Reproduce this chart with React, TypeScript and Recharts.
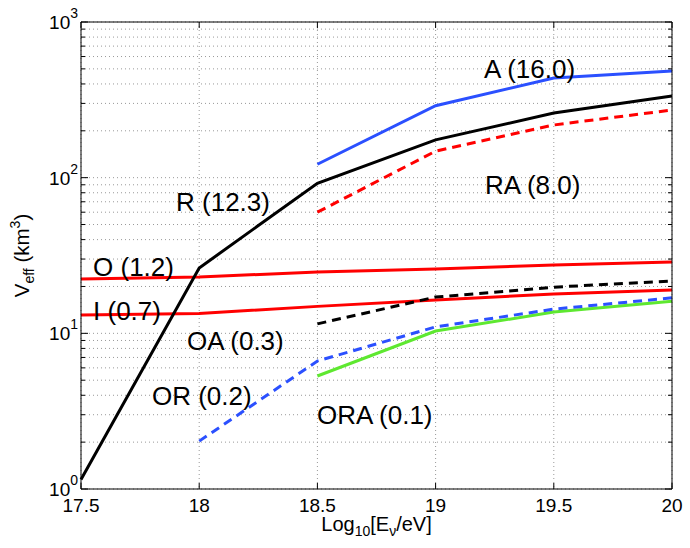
import React from 'react';
import { LineChart, Line, XAxis, YAxis, CartesianGrid, ReferenceDot, Label } from 'recharts';

const xValues = [17.5, 18, 18.5, 19, 19.5, 20];
const seriesR = [1.15, 26.3, 92, 175, 260, 335];
const seriesA = [null, null, 122, 290, 437, 484];
const seriesRA = [null, null, 60, 148, 218, 272];
const seriesO = [22.3, 23, 24.8, 25.9, 27.5, 28.7];
const seriesI = [13.1, 13.4, 14.9, 16.4, 17.9, 19.0];
const seriesOA = [null, null, 11.5, 17.1, 19.8, 21.7];
const seriesOR = [null, 2.03, 6.64, 11.0, 14.3, 16.9];
const seriesORA = [null, null, 5.32, 10.35, 13.7, 16.1];

const xTicks = [17.5, 18, 18.5, 19, 19.5, 20];
const yTicks = [
  1, 2, 3, 4, 5, 6, 7, 8, 9,
  10, 20, 30, 40, 50, 60, 70, 80, 90,
  100, 200, 300, 400, 500, 600, 700, 800, 900,
  1000,
];
const yDecades = [1, 10, 100, 1000];

const annLabels = ['A (16.0)', 'RA (8.0)', 'R (12.3)', 'O (1.2)', 'I (0.7)', 'OA (0.3)', 'OR (0.2)', 'ORA (0.1)'];
const annX = [19.205, 19.209, 17.902, 17.551, 17.551, 17.948, 17.8, 18.498];
const annY = [437, 78.5, 61.1, 23.4, 12.2, 7.82, 3.46, 2.62];

const data = xValues.map((x, i) => ({
  x,
  R: seriesR[i],
  A: seriesA[i],
  RA: seriesRA[i],
  O: seriesO[i],
  I: seriesI[i],
  OA: seriesOA[i],
  OR: seriesOR[i],
  ORA: seriesORA[i],
}));

const FONT = '"Liberation Sans", Arial, Helvetica, sans-serif';

const LeftTick = (props: any) => {
  const { y, payload } = props;
  const v = payload.value;
  const isMajor = yDecades.includes(v);
  const len = isMajor ? 7 : 4;
  const ax = 81;
  return (
    <g>
      <line x1={ax} x2={ax + len} y1={y} y2={y} stroke="#000" strokeWidth={1} />
      {isMajor && (
        <text x={ax - 3} y={y + 7} textAnchor="end" fontFamily={FONT} fontSize={19} fill="#000">
          <tspan>10</tspan>
          <tspan dy={-11} fontSize={14}>{String(Math.round(Math.log10(v)))}</tspan>
        </text>
      )}
    </g>
  );
};

const RightTick = (props: any) => {
  const { y, payload } = props;
  const v = payload.value;
  const isMajor = yDecades.includes(v);
  const len = isMajor ? 7 : 4;
  const ax = 672;
  return <line x1={ax} x2={ax - len} y1={y} y2={y} stroke="#000" strokeWidth={1} />;
};

const BottomTick = (props: any) => {
  const { x, payload } = props;
  const ay = 489;
  return (
    <g>
      <line x1={x} x2={x} y1={ay} y2={ay - 6} stroke="#000" strokeWidth={1} />
      <text x={x} y={ay + 23} textAnchor="middle" fontFamily={FONT} fontSize={19} fill="#000">
        {String(payload.value)}
      </text>
    </g>
  );
};

const TopTick = (props: any) => {
  const { x } = props;
  const ay = 22;
  return <line x1={x} x2={x} y1={ay} y2={ay + 6} stroke="#000" strokeWidth={1} />;
};

const XLabel = (props: any) => {
  const vb = props.viewBox || { x: 81, y: 489, width: 591 };
  const cx = vb.x + vb.width / 2;
  return (
    <text x={cx} y={531} textAnchor="middle" fontFamily={FONT} fontSize={20} fill="#000">
      <tspan>Log</tspan>
      <tspan fontSize={14} dy={5}>10</tspan>
      <tspan dy={-5}>[E</tspan>
      <tspan fontSize={14} dy={5}>ν</tspan>
      <tspan dy={-5}>/eV]</tspan>
    </text>
  );
};

const YLabel = (props: any) => {
  const vb = props.viewBox || { x: 80, y: 22, height: 467 };
  const cy = vb.y + vb.height / 2;
  const cx = 29;
  return (
    <text
      x={cx}
      y={cy}
      textAnchor="middle"
      fontFamily={FONT}
      fontSize={20.5}
      fill="#000"
      transform={`rotate(-90 ${cx} ${cy})`}
    >
      <tspan>V</tspan>
      <tspan fontSize={14} dy={5}>eff</tspan>
      <tspan dy={-5}> (km</tspan>
      <tspan fontSize={14} dy={-9}>3</tspan>
      <tspan dy={9}>)</tspan>
    </text>
  );
};

const makeAnn = (label: string) => (props: any) => (
  <text x={props.cx} y={props.cy} fontFamily={FONT} fontSize={26} fill="#000">
    {label}
  </text>
);

export default function App() {
  return (
    <div style={{ position: 'absolute', left: 0, top: 0, background: '#fff' }}>
      <LineChart
        width={690}
        height={548}
        data={data}
        margin={{ top: 21, right: 17, bottom: 58, left: 80 }}
      >
        <CartesianGrid strokeDasharray="1 3" stroke="#999" strokeWidth={1} />
        <XAxis
          dataKey="x"
          type="number"
          domain={[17.5, 20]}
          ticks={xTicks}
          height={1}
          tickSize={0}
          tickMargin={0}
          tickLine={false}
          axisLine={{ stroke: '#000', strokeWidth: 1 }}
          tick={<BottomTick />}
          interval={0}
        >
          <Label content={<XLabel />} />
        </XAxis>
        <XAxis
          xAxisId="top"
          dataKey="x"
          type="number"
          orientation="top"
          domain={[17.5, 20]}
          ticks={xTicks}
          height={1}
          tickSize={0}
          tickMargin={0}
          tickLine={false}
          axisLine={{ stroke: '#000', strokeWidth: 1 }}
          tick={<TopTick />}
          interval={0}
        />
        <YAxis
          type="number"
          scale="log"
          domain={[1, 1000]}
          ticks={yTicks}
          width={1}
          tickSize={0}
          tickMargin={0}
          tickLine={false}
          axisLine={{ stroke: '#000', strokeWidth: 1 }}
          tick={<LeftTick />}
          interval={0}
          allowDataOverflow
        >
          <Label content={<YLabel />} />
        </YAxis>
        <YAxis
          yAxisId="right"
          orientation="right"
          type="number"
          scale="log"
          domain={[1, 1000]}
          ticks={yTicks}
          width={1}
          tickSize={0}
          tickMargin={0}
          tickLine={false}
          axisLine={{ stroke: '#000', strokeWidth: 1 }}
          tick={<RightTick />}
          interval={0}
          allowDataOverflow
        />
        <Line dataKey="O" stroke="#ff0000" strokeWidth={3} dot={false} isAnimationActive={false} />
        <Line dataKey="I" stroke="#ff0000" strokeWidth={3} dot={false} isAnimationActive={false} />
        <Line dataKey="R" stroke="#000000" strokeWidth={3} dot={false} isAnimationActive={false} />
        <Line dataKey="A" stroke="#2b50ff" strokeWidth={3} dot={false} isAnimationActive={false} />
        <Line dataKey="RA" stroke="#ff0000" strokeWidth={3} strokeDasharray="9 6" dot={false} isAnimationActive={false} />
        <Line dataKey="OA" stroke="#000000" strokeWidth={3} strokeDasharray="9 6" dot={false} isAnimationActive={false} />
        <Line dataKey="ORA" stroke="#5ee830" strokeWidth={3} dot={false} isAnimationActive={false} />
        <Line dataKey="OR" stroke="#2b50ff" strokeWidth={3} strokeDasharray="9 6" dot={false} isAnimationActive={false} />
        {annLabels.map((lab, i) => (
          <ReferenceDot
            key={lab}
            x={annX[i]}
            y={annY[i]}
            r={0}
            ifOverflow="visible"
            shape={makeAnn(lab)}
          />
        ))}
      </LineChart>
    </div>
  );
}
